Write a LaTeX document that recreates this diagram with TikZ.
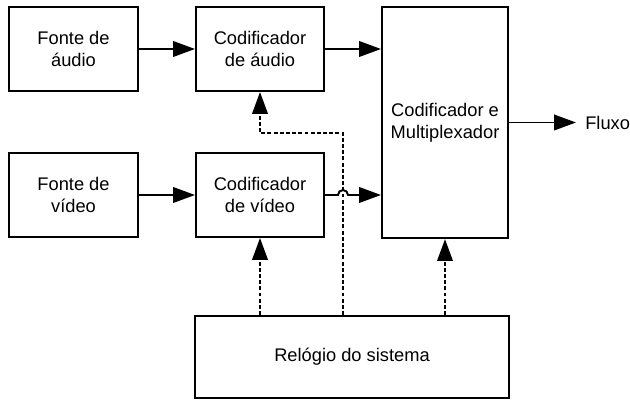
\documentclass[tikz,border=0pt]{standalone}
\usepackage{fontspec}
\setmainfont{Liberation Sans}
\usetikzlibrary{arrows.meta,calc}

\begin{document}
\begin{tikzpicture}[
  x=0.025cm, y=0.025cm,
  block/.style={
    draw=black, fill=white, line width=1.4pt,
    minimum width=3.2cm, minimum height=2.1cm,
    font=\fontsize{13}{15.6}\selectfont, align=center, inner sep=0pt
  },
  muxblock/.style={block, minimum width=3.15cm, minimum height=5.78cm},
  clockblock/.style={block, minimum width=7.85cm, minimum height=2.05cm},
  flow/.style={-{Triangle[length=15.5pt, width=11pt]}, line width=1.4pt},
  clockflow/.style={flow, dash pattern=on 2.8pt off 1.6pt}
]
\useasboundingbox (0,0) rectangle (630,400);

% Sources and encoders.
\node[block, minimum width=3.22cm] (srcA) at (73.5,351) {Fonte de\\áudio};
\node[block]                       (encA) at (260,351)  {Codificador\\de áudio};
\node[block, minimum width=3.22cm] (srcV) at (73.5,205) {Fonte de\\vídeo};
\node[block]                       (encV) at (260,205)  {Codificador\\de vídeo};

% Multiplexer, output and clock.
\node[muxblock]   (mux)   at (445,277.5) {Codificador e\\Multiplexador};
\node[anchor=west, inner xsep=0.225cm, inner ysep=0pt,
  font=\fontsize{13}{15.6}\selectfont] (fluxo) at (576,277.5) {Fluxo};
\node[clockblock] (clock) at (352,43) {Relógio do sistema};

% Signal path.
\draw[flow] (srcA.east) -- (encA.west);
\draw[flow] (srcV.east) -- (encV.west);
\draw[flow] (encA.east) -- (encA.east -| mux.west);
\draw[flow] (mux.east) -- (mux.east -| fluxo.west);

% Clock distribution; the audio tap runs under the video path.
\coordinate (bend) at (343,267);
\draw[clockflow] (encV.south |- clock.north) -- (encV.south);
\draw[clockflow] (mux.south |- clock.north) -- (mux.south);
\draw[clockflow] (bend |- clock.north) -- (bend) -| (encA.south);

% Video path hops over the clock line.
\draw[flow] (encV.east) -- ($(bend |- encV.east)+(-0.125cm,0)$)
  arc[start angle=180, end angle=0, radius=0.125cm]
  -- (encV.east -| mux.west);
\end{tikzpicture}
\end{document}
